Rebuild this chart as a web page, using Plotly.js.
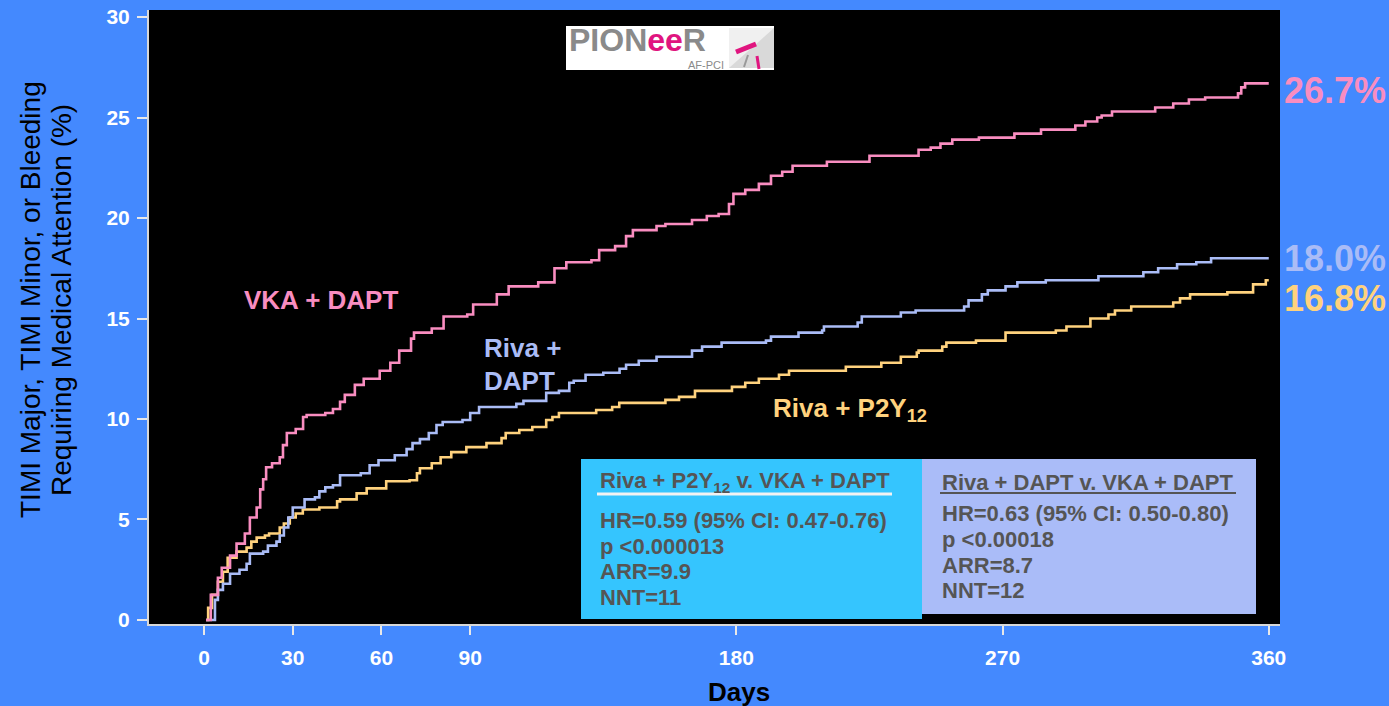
<!DOCTYPE html>
<html>
<head>
<meta charset="utf-8">
<script src="https://cdn.plot.ly/plotly-3.0.1.min.js"></script>
<style>html,body{margin:0;padding:0;background:#4489fe;}#chart{width:1389px;height:706px;}</style>
</head>
<body>
<div id="chart"></div>
<script>
// ---------- data ----------
const seriesNames = ["Riva + P2Y12", "Riva + DAPT", "VKA + DAPT"];
const finalLabels = ["16.8%", "18.0%", "26.7%"];
const xTickVals = [0, 30, 60, 90, 180, 270, 360];
const yTickVals = [0, 5, 10, 15, 20, 25, 30];

const vkaDays = [0.7, 2.3, 4.7, 6, 8.8, 11, 13.8, 15.5, 17.8, 19, 20, 21, 23, 25.6, 26.7, 28, 31, 33.5, 34.7, 41, 43.6, 46, 47.6, 51, 54, 59.4, 63, 66, 70, 71, 77, 81, 89, 91, 99, 103, 113, 118.5, 122.5, 131, 133.6, 139, 142.7, 145, 153, 156, 165, 170, 174, 177.5, 179, 183, 187.6, 191.7, 195.5, 199, 210.6, 225, 241.6, 245.7, 249, 253, 262, 274, 283, 294.6, 298, 302, 303.5, 307, 321.6, 327.7, 333, 338.5, 349.6, 350.7, 352, 360];
const vkaPct  = [0, 1.25, 2.1, 2.6, 3.2, 3.8, 4.3, 5.1, 5.6, 6.5, 7.0, 7.6, 7.8, 8.1, 8.7, 9.3, 9.5, 10.1, 10.2, 10.3, 10.5, 10.85, 11.2, 11.7, 12.0, 12.4, 12.8, 13.4, 14.0, 14.3, 14.5, 15.1, 15.2, 15.7, 16.2, 16.6, 16.8, 17.5, 17.8, 17.9, 18.4, 18.6, 19.1, 19.4, 19.6, 19.7, 19.9, 20.1, 20.2, 20.7, 21.2, 21.4, 21.7, 22.1, 22.3, 22.6, 22.8, 23.1, 23.4, 23.5, 23.7, 23.9, 24.0, 24.2, 24.4, 24.6, 24.8, 25.0, 25.1, 25.3, 25.5, 25.7, 25.9, 26.0, 26.2, 26.5, 26.7, 26.7];

const rdDays = [0.7, 3.7, 4.7, 6.4, 8.8, 12, 14.4, 15.5, 20, 21.6, 24.5, 25.6, 27, 28.5, 30, 34, 37.5, 39, 41, 43.6, 46, 53, 56, 59, 64.5, 68.5, 70.5, 73, 76, 78.6, 80.7, 87.4, 90, 93, 105.6, 108, 115.7, 120, 123.5, 125, 129, 135, 140.5, 142.7, 147, 153, 165, 168.4, 175, 190, 191.7, 201, 209, 209.6, 221, 222.4, 235.6, 240.6, 257, 258.5, 263, 265, 271, 275, 284.6, 302.4, 317.6, 322.6, 329, 335.5, 340.5, 360];
const rdPct  = [0, 1.0, 1.5, 1.8, 2.3, 2.5, 2.8, 3.3, 3.4, 3.7, 3.9, 4.2, 4.6, 5.1, 5.6, 6.0, 6.1, 6.4, 6.6, 6.7, 7.2, 7.3, 7.7, 7.95, 8.2, 8.5, 8.8, 9.0, 9.3, 9.7, 9.85, 9.95, 10.3, 10.6, 10.75, 10.9, 11.3, 11.4, 11.8, 11.9, 12.2, 12.3, 12.5, 12.7, 12.9, 13.1, 13.4, 13.6, 13.8, 13.9, 14.1, 14.3, 14.4, 14.6, 14.8, 15.1, 15.3, 15.4, 15.6, 15.9, 16.2, 16.4, 16.6, 16.8, 16.9, 17.1, 17.3, 17.5, 17.7, 17.8, 18.0, 18.0];

const rpDays = [0.7, 1.4, 2.7, 4.7, 6.4, 8, 11, 14.4, 16, 17.8, 20.6, 22, 25.6, 27, 29, 31, 33.4, 39, 45, 46, 51.6, 55, 61.6, 69.5, 72, 73, 77, 80, 83.6, 88.7, 95.5, 100.6, 102, 106.6, 111, 115.7, 117.8, 120, 132.6, 138, 140.4, 156, 160.6, 166, 178.5, 183, 187.6, 194.4, 197.8, 217, 229, 235.6, 241, 241.6, 249.6, 251, 261, 271, 288, 291.6, 299.7, 305.8, 308, 313.5, 327.7, 330, 333.4, 346, 354.7, 359, 360];
const rpPct  = [0, 0.6, 1.25, 1.9, 2.4, 3.1, 3.4, 3.6, 3.9, 4.1, 4.2, 4.3, 4.6, 4.8, 5.1, 5.3, 5.5, 5.6, 5.9, 6.0, 6.3, 6.55, 6.9, 6.95, 7.3, 7.55, 7.8, 8.1, 8.35, 8.6, 8.8, 9.05, 9.3, 9.45, 9.6, 9.95, 10.1, 10.3, 10.45, 10.6, 10.8, 10.95, 11.1, 11.4, 11.6, 11.8, 12.0, 12.2, 12.4, 12.6, 12.8, 13.1, 13.3, 13.4, 13.6, 13.8, 13.9, 14.3, 14.4, 14.6, 15.0, 15.2, 15.4, 15.6, 15.8, 16.0, 16.2, 16.3, 16.7, 16.9, 16.9];

const box1Title = "Riva + P2Y<sub>12</sub> v. VKA + DAPT";
const box1Lines = ["HR=0.59 (95% CI: 0.47-0.76)", "p <0.000013", "ARR=9.9", "NNT=11"];
const box2Title = "Riva + DAPT v. VKA + DAPT";
const box2Lines = ["HR=0.63 (95% CI: 0.50-0.80)", "p <0.00018", "ARR=8.7", "NNT=12"];
const yTitleLines = ["TIMI Major, TIMI Minor, or Bleeding", "Requiring Medical Attention (%)"];

// ---------- styling ----------
const PINK = "#f98dc0", LAV = "#aabcf6", YEL = "#ffd27e";
const BG = "#4489fe";
const FONT = "Liberation Sans, Arial, sans-serif";
const L = 149, R = 1280, T = 10, B = 624;
const px = x => (x - L) / (R - L);
const py = y => (B - y) / (B - T);

const mk = (x, y, c, n) => ({x: x, y: y, type: "scatter", mode: "lines", name: n,
  line: {shape: "hv", color: c, width: 2.6}, hoverinfo: "skip"});
const traces = [mk(rpDays, rpPct, YEL, seriesNames[0]), mk(rdDays, rdPct, LAV, seriesNames[1]), mk(vkaDays, vkaPct, PINK, seriesNames[2])];

const ann = [];
function txt(text, x, y, size, color, opts) {
  ann.push(Object.assign({text: text, xref: "paper", yref: "paper", x: px(x), y: py(y), xanchor: "left", yanchor: "middle",
    showarrow: false, font: {family: FONT, size: size, color: color}}, opts || {}));
}
// curve labels
txt("<b>VKA + DAPT</b>", 242, 300, 26, PINK);
txt("<b>Riva +</b>", 482, 348, 26, LAV);
txt("<b>DAPT</b>", 482, 381, 26, LAV);
txt("<b>Riva + P2Y<sub>12</sub></b>", 771, 409, 26, YEL);
// end labels
txt("<b>" + finalLabels[2] + "</b>", 1282, 91, 36, PINK);
txt("<b>" + finalLabels[1] + "</b>", 1282, 258, 36, LAV);
txt("<b>" + finalLabels[0] + "</b>", 1282, 298, 36, YEL);
// boxes
const GREY = "#555555";
txt("<b>" + box1Title + "</b>", 598, 482, 22, GREY);
txt("<b>" + box2Title + "</b>", 940, 482, 22, GREY);
const b1y = [520, 546, 571, 597], b2y = [513, 539, 565, 590];
box1Lines.forEach((s, i) => txt("<b>" + s + "</b>", 598, b1y[i], 22, GREY));
box2Lines.forEach((s, i) => txt("<b>" + s + "</b>", 940, b2y[i], 22, GREY));
// axis titles (two lines placed separately to match the reference's line spacing)
[30, 61].forEach((xc, i) => ann.push({text: yTitleLines[i], xref: "paper", yref: "paper",
  x: px(xc), y: py(300), xanchor: "center", yanchor: "middle", textangle: -90, showarrow: false,
  font: {family: FONT, size: 28, color: "#000"}}));
ann.push({text: "<b>Days</b>", xref: "paper", yref: "paper", x: px(739), y: py(692), xanchor: "center", yanchor: "middle",
  showarrow: false, font: {family: FONT, size: 26, color: "#000"}});
// logo text
ann.push({text: "<b><span style='color:#8a8a8a'>PION</span><span style='color:#e0157f'>ee</span><span style='color:#8a8a8a'>R</span></b>",
  xref: "paper", yref: "paper", x: px(567), y: py(40), xanchor: "left", yanchor: "middle", showarrow: false,
  font: {family: FONT, size: 32, color: "#8a8a8a"}});
ann.push({text: "AF-PCI", xref: "paper", yref: "paper", x: px(686), y: py(65), xanchor: "left", yanchor: "middle", showarrow: false,
  font: {family: FONT, size: 11, color: "#8a8a8a"}});

const shapes = [
  {type: "rect", xref: "paper", yref: "paper", x0: px(581), x1: px(922), y0: py(619), y1: py(459), fillcolor: "#35c5fe", line: {width: 0}},
  {type: "rect", xref: "paper", yref: "paper", x0: px(922), x1: px(1256), y0: py(614), y1: py(459), fillcolor: "#aabcf8", line: {width: 0}},
  {type: "line", xref: "paper", yref: "paper", x0: px(597), x1: px(892), y0: py(494), y1: py(494), line: {color: "#f2f2f2", width: 3}},
  {type: "line", xref: "paper", yref: "paper", x0: px(940), x1: px(1236), y0: py(493), y1: py(493), line: {color: GREY, width: 2}},
  // logo
  {type: "rect", xref: "paper", yref: "paper", x0: px(566), x1: px(774), y0: py(70), y1: py(26), fillcolor: "#ffffff", line: {width: 0}},
  {type: "path", xref: "paper", yref: "paper", path: `M ${px(729)} ${py(28)} L ${px(774)} ${py(28)} L ${px(774)} ${py(68)} L ${px(729)} ${py(68)} Z`, fillcolor: "#d9d9d9", line: {width: 0}},
  {type: "path", xref: "paper", yref: "paper", path: `M ${px(729)} ${py(28)} L ${px(774)} ${py(28)} L ${px(729)} ${py(68)} Z`, fillcolor: "#f0f0f0", line: {width: 0}},
  {type: "line", xref: "paper", yref: "paper", x0: px(736), x1: px(756), y0: py(52), y1: py(44), line: {color: "#e0157f", width: 5}},
  {type: "line", xref: "paper", yref: "paper", x0: px(748), x1: px(744), y0: py(55), y1: py(67), line: {color: "#999", width: 2}},
  {type: "line", xref: "paper", yref: "paper", x0: px(757), x1: px(759), y0: py(56), y1: py(69), line: {color: "#e0157f", width: 3}}
];

const axisFont = {family: FONT, size: 21, color: "#ffffff", weight: "bold"};
const layout = {
  width: 1389, height: 706,
  margin: {l: L, r: 1389 - R, t: T, b: 706 - B, pad: 0},
  paper_bgcolor: BG, plot_bgcolor: "#000000",
  showlegend: false,
  xaxis: {range: [-18.6, 363.8], tickvals: xTickVals, ticktext: xTickVals.map(String), showgrid: false, zeroline: false,
    showline: true, linecolor: "#d8d8d8", linewidth: 2, ticks: "outside", ticklen: 9, tickwidth: 2, tickcolor: "#e8e8e8",
    tickfont: axisFont, ticklabelstandoff: 5, fixedrange: true},
  yaxis: {range: [-0.2, 30.35], tickvals: yTickVals, showgrid: false, zeroline: false,
    showline: true, linecolor: "#d8d8d8", linewidth: 2, ticks: "outside", ticklen: 10, tickwidth: 2, tickcolor: "#e8e8e8",
    tickfont: axisFont, ticklabelstandoff: 3, fixedrange: true},
  annotations: ann,
  shapes: shapes
};
Plotly.newPlot("chart", traces, layout, {displayModeBar: false, staticPlot: true});
</script>
</body>
</html>
